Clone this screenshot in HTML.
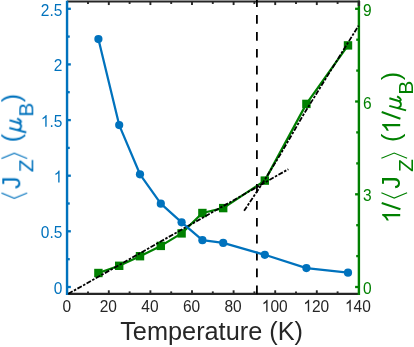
<!DOCTYPE html><html><head><meta charset="utf-8"><title>chart</title><style>html,body{margin:0;padding:0;background:#fff}svg{display:block}text{font-family:"Liberation Sans",sans-serif}</style></head><body>
<svg width="414" height="347" viewBox="0 0 414 347">
<defs><filter id="f" x="0" y="0" width="414" height="347" filterUnits="userSpaceOnUse"><feOffset dx="0" dy="0"/></filter></defs>
<rect width="414" height="347" fill="#fff"/>
<g filter="url(#f)">
<polyline points="98.4,273 119.2,265.8 140.0,256.2 160.8,245.9 181.6,233.4 202.4,213 223.2,208.1 264.8,180.6 306.4,103.9 348.0,45.4" fill="none" stroke="#008000" stroke-width="2.25" stroke-linejoin="round"/>
<rect x="94.2" y="268.8" width="8.4" height="8.4" fill="#008000"/>
<rect x="115.0" y="261.6" width="8.4" height="8.4" fill="#008000"/>
<rect x="135.8" y="252.0" width="8.4" height="8.4" fill="#008000"/>
<rect x="156.6" y="241.7" width="8.4" height="8.4" fill="#008000"/>
<rect x="177.4" y="229.2" width="8.4" height="8.4" fill="#008000"/>
<rect x="198.2" y="208.8" width="8.4" height="8.4" fill="#008000"/>
<rect x="219.0" y="203.9" width="8.4" height="8.4" fill="#008000"/>
<rect x="260.6" y="176.4" width="8.4" height="8.4" fill="#008000"/>
<rect x="302.2" y="99.7" width="8.4" height="8.4" fill="#008000"/>
<rect x="343.8" y="41.2" width="8.4" height="8.4" fill="#008000"/>
<g stroke="#262626" stroke-width="2.1" fill="none">
<line x1="67.05" y1="1.45" x2="359.9" y2="1.45"/>
<line x1="67.05" y1="293.9" x2="358.9" y2="293.9"/>
<line x1="88.0" y1="1.45" x2="88.0" y2="3.95" stroke-width="1.9"/>
<line x1="88.0" y1="293.9" x2="88.0" y2="291.4" stroke-width="1.9"/>
<line x1="108.8" y1="1.45" x2="108.8" y2="5.050000000000001" stroke-width="1.9"/>
<line x1="108.8" y1="293.9" x2="108.8" y2="290.3" stroke-width="1.9"/>
<line x1="129.6" y1="1.45" x2="129.6" y2="3.95" stroke-width="1.9"/>
<line x1="129.6" y1="293.9" x2="129.6" y2="291.4" stroke-width="1.9"/>
<line x1="150.4" y1="1.45" x2="150.4" y2="5.050000000000001" stroke-width="1.9"/>
<line x1="150.4" y1="293.9" x2="150.4" y2="290.3" stroke-width="1.9"/>
<line x1="171.2" y1="1.45" x2="171.2" y2="3.95" stroke-width="1.9"/>
<line x1="171.2" y1="293.9" x2="171.2" y2="291.4" stroke-width="1.9"/>
<line x1="192.0" y1="1.45" x2="192.0" y2="5.050000000000001" stroke-width="1.9"/>
<line x1="192.0" y1="293.9" x2="192.0" y2="290.3" stroke-width="1.9"/>
<line x1="212.8" y1="1.45" x2="212.8" y2="3.95" stroke-width="1.9"/>
<line x1="212.8" y1="293.9" x2="212.8" y2="291.4" stroke-width="1.9"/>
<line x1="233.6" y1="1.45" x2="233.6" y2="5.050000000000001" stroke-width="1.9"/>
<line x1="233.6" y1="293.9" x2="233.6" y2="290.3" stroke-width="1.9"/>
<line x1="254.4" y1="1.45" x2="254.4" y2="3.95" stroke-width="1.9"/>
<line x1="254.4" y1="293.9" x2="254.4" y2="291.4" stroke-width="1.9"/>
<line x1="275.2" y1="1.45" x2="275.2" y2="5.050000000000001" stroke-width="1.9"/>
<line x1="275.2" y1="293.9" x2="275.2" y2="290.3" stroke-width="1.9"/>
<line x1="296.0" y1="1.45" x2="296.0" y2="3.95" stroke-width="1.9"/>
<line x1="296.0" y1="293.9" x2="296.0" y2="291.4" stroke-width="1.9"/>
<line x1="316.8" y1="1.45" x2="316.8" y2="5.050000000000001" stroke-width="1.9"/>
<line x1="316.8" y1="293.9" x2="316.8" y2="290.3" stroke-width="1.9"/>
<line x1="337.6" y1="1.45" x2="337.6" y2="3.95" stroke-width="1.9"/>
<line x1="337.6" y1="293.9" x2="337.6" y2="291.4" stroke-width="1.9"/>
</g>
<g stroke="#008000" stroke-width="2.4" fill="none">
<line x1="358.9" y1="0.7" x2="358.9" y2="295"/>
<line x1="358.9" y1="287.0" x2="355.09999999999997" y2="287.0" stroke-width="2.3"/>
<line x1="358.9" y1="256.1" x2="356.19999999999993" y2="256.1" stroke-width="2.3"/>
<line x1="358.9" y1="225.2" x2="356.19999999999993" y2="225.2" stroke-width="2.3"/>
<line x1="358.9" y1="194.3" x2="355.09999999999997" y2="194.3" stroke-width="2.3"/>
<line x1="358.9" y1="163.4" x2="356.19999999999993" y2="163.4" stroke-width="2.3"/>
<line x1="358.9" y1="132.4" x2="356.19999999999993" y2="132.4" stroke-width="2.3"/>
<line x1="358.9" y1="101.5" x2="355.09999999999997" y2="101.5" stroke-width="2.3"/>
<line x1="358.9" y1="70.6" x2="356.19999999999993" y2="70.6" stroke-width="2.3"/>
<line x1="358.9" y1="39.7" x2="356.19999999999993" y2="39.7" stroke-width="2.3"/>
<line x1="358.9" y1="8.8" x2="355.09999999999997" y2="8.8" stroke-width="2.3"/>
</g>
<line x1="358.9" y1="0.7" x2="358.9" y2="6" stroke="#262626" stroke-width="2.4"/>
<g stroke="#0072bd" stroke-width="2.4" fill="none">
<line x1="67.05" y1="0.7" x2="67.05" y2="295"/>
<line x1="67.05" y1="287.0" x2="70.85" y2="287.0" stroke-width="2.3"/>
<line x1="67.05" y1="259.2" x2="69.74999999999999" y2="259.2" stroke-width="2.3"/>
<line x1="67.05" y1="231.3" x2="70.85" y2="231.3" stroke-width="2.3"/>
<line x1="67.05" y1="203.5" x2="69.74999999999999" y2="203.5" stroke-width="2.3"/>
<line x1="67.05" y1="175.7" x2="70.85" y2="175.7" stroke-width="2.3"/>
<line x1="67.05" y1="147.9" x2="69.74999999999999" y2="147.9" stroke-width="2.3"/>
<line x1="67.05" y1="120.1" x2="70.85" y2="120.1" stroke-width="2.3"/>
<line x1="67.05" y1="92.2" x2="69.74999999999999" y2="92.2" stroke-width="2.3"/>
<line x1="67.05" y1="64.4" x2="70.85" y2="64.4" stroke-width="2.3"/>
<line x1="67.05" y1="36.6" x2="69.74999999999999" y2="36.6" stroke-width="2.3"/>
<line x1="67.05" y1="8.8" x2="70.85" y2="8.8" stroke-width="2.3"/>
</g>
<g stroke="#000" stroke-width="1.8" fill="none" stroke-dasharray="5 1.5 2.5 1.5">
<line x1="68.3" y1="293.8" x2="288.4" y2="169.2"/>
<polyline points="244.1,210.8 256.6,192 265.4,178.7 280.6,154.1 303.1,115.3 327.6,75.6 358.6,25.6"/>
</g>
<line x1="256.9" y1="294.2" x2="256.9" y2="0" stroke="#000" stroke-width="1.8" stroke-dasharray="8.7 8.2"/>
<polyline points="98.4,39.1 119.2,125.1 140.0,174.3 160.8,203.7 181.6,222.3 202.4,240.2 223.2,242.9 264.8,254.8 306.4,268.1 348.0,272.7" fill="none" stroke="#0072bd" stroke-width="2.25" stroke-linejoin="round"/>
<circle cx="98.4" cy="39.1" r="4.1" fill="#0072bd"/>
<circle cx="119.2" cy="125.1" r="4.1" fill="#0072bd"/>
<circle cx="140.0" cy="174.3" r="4.1" fill="#0072bd"/>
<circle cx="160.8" cy="203.7" r="4.1" fill="#0072bd"/>
<circle cx="181.6" cy="222.3" r="4.1" fill="#0072bd"/>
<circle cx="202.4" cy="240.2" r="4.1" fill="#0072bd"/>
<circle cx="223.2" cy="242.9" r="4.1" fill="#0072bd"/>
<circle cx="264.8" cy="254.8" r="4.1" fill="#0072bd"/>
<circle cx="306.4" cy="268.1" r="4.1" fill="#0072bd"/>
<circle cx="348.0" cy="272.7" r="4.1" fill="#0072bd"/>
<g>
<g font-size="15.5" fill="#262626" text-anchor="middle">
<g transform="translate(62.39,311.70) scale(1,1.07)" font-size="15.5" fill="#262626" text-anchor="start"><text x="0.00" y="0">0</text></g>
<g transform="translate(99.68,311.70) scale(1,1.07)" font-size="15.5" fill="#262626" text-anchor="start"><text x="0.00" y="0">2</text><text x="8.62" y="0">0</text></g>
<g transform="translate(141.28,311.70) scale(1,1.07)" font-size="15.5" fill="#262626" text-anchor="start"><text x="0.00" y="0">4</text><text x="8.62" y="0">0</text></g>
<g transform="translate(182.88,311.70) scale(1,1.07)" font-size="15.5" fill="#262626" text-anchor="start"><text x="0.00" y="0">6</text><text x="8.62" y="0">0</text></g>
<g transform="translate(224.48,311.70) scale(1,1.07)" font-size="15.5" fill="#262626" text-anchor="start"><text x="0.00" y="0">8</text><text x="8.62" y="0">0</text></g>
<g transform="translate(261.77,311.70) scale(1,1.07)" font-size="15.5" fill="#262626" text-anchor="start"><path transform="translate(0.00,0.00) scale(0.01550)" d="M373,0 L285,0 L285,-560 Q253,-530 201,-500 Q149,-470 108,-455 L108,-540 Q182,-575 238,-625 Q294,-674 317,-721 L373,-721 Z" fill="#262626"/><text x="8.62" y="0">0</text><text x="17.24" y="0">0</text></g>
<g transform="translate(303.37,311.70) scale(1,1.07)" font-size="15.5" fill="#262626" text-anchor="start"><path transform="translate(0.00,0.00) scale(0.01550)" d="M373,0 L285,0 L285,-560 Q253,-530 201,-500 Q149,-470 108,-455 L108,-540 Q182,-575 238,-625 Q294,-674 317,-721 L373,-721 Z" fill="#262626"/><text x="8.62" y="0">2</text><text x="17.24" y="0">0</text></g>
<g transform="translate(344.97,311.70) scale(1,1.07)" font-size="15.5" fill="#262626" text-anchor="start"><path transform="translate(0.00,0.00) scale(0.01550)" d="M373,0 L285,0 L285,-560 Q253,-530 201,-500 Q149,-470 108,-455 L108,-540 Q182,-575 238,-625 Q294,-674 317,-721 L373,-721 Z" fill="#262626"/><text x="8.62" y="0">4</text><text x="17.24" y="0">0</text></g>
</g>
<g font-size="15.5" fill="#0072bd" text-anchor="end">
<g transform="translate(53.78,293.80) scale(1,1.07)" font-size="15.5" fill="#0072bd" text-anchor="start"><text x="0.00" y="0">0</text></g>
<g transform="translate(40.85,238.15) scale(1,1.07)" font-size="15.5" fill="#0072bd" text-anchor="start"><text x="0.00" y="0">0</text><text x="8.62" y="0">.</text><text x="12.93" y="0">5</text></g>
<g transform="translate(53.78,182.50) scale(1,1.07)" font-size="15.5" fill="#0072bd" text-anchor="start"><path transform="translate(0.00,0.00) scale(0.01550)" d="M373,0 L285,0 L285,-560 Q253,-530 201,-500 Q149,-470 108,-455 L108,-540 Q182,-575 238,-625 Q294,-674 317,-721 L373,-721 Z" fill="#0072bd"/></g>
<g transform="translate(40.85,126.85) scale(1,1.07)" font-size="15.5" fill="#0072bd" text-anchor="start"><path transform="translate(0.00,0.00) scale(0.01550)" d="M373,0 L285,0 L285,-560 Q253,-530 201,-500 Q149,-470 108,-455 L108,-540 Q182,-575 238,-625 Q294,-674 317,-721 L373,-721 Z" fill="#0072bd"/><text x="8.62" y="0">.</text><text x="12.93" y="0">5</text></g>
<g transform="translate(53.78,71.20) scale(1,1.07)" font-size="15.5" fill="#0072bd" text-anchor="start"><text x="0.00" y="0">2</text></g>
<g transform="translate(40.85,15.55) scale(1,1.07)" font-size="15.5" fill="#0072bd" text-anchor="start"><text x="0.00" y="0">2</text><text x="8.62" y="0">.</text><text x="12.93" y="0">5</text></g>
</g>
<g font-size="15.5" fill="#008000" text-anchor="start">
<g transform="translate(363.10,294.00) scale(1,1.07)" font-size="15.5" fill="#008000" text-anchor="start"><text x="0.00" y="0">0</text></g>
<g transform="translate(363.10,201.27) scale(1,1.07)" font-size="15.5" fill="#008000" text-anchor="start"><text x="0.00" y="0">3</text></g>
<g transform="translate(363.10,108.53) scale(1,1.07)" font-size="15.5" fill="#008000" text-anchor="start"><text x="0.00" y="0">6</text></g>
<g transform="translate(363.10,15.80) scale(1,1.07)" font-size="15.5" fill="#008000" text-anchor="start"><text x="0.00" y="0">9</text></g>
</g>
<text x="211.6" y="340" font-size="25.3" fill="#262626" text-anchor="middle">Temperature (K)</text>
</g>
<g transform="translate(20.3,198.7) rotate(-90)" fill="#0072bd">
<path d="M5.7,-18.8 L0.4,-6 L5.7,6.9" fill="none" stroke="#0072bd" stroke-width="1.15"/>
<text x="9.8" y="0" font-size="25">J</text>
<text x="26.4" y="12.6" font-size="21">Z</text>
<path d="M40.2,-18.8 L45.5,-6 L40.2,6.9" fill="none" stroke="#0072bd" stroke-width="1.15"/>
<text x="56.4" y="0" font-size="25">(</text>
<g transform="translate(0,0)">
<path d="M70.8,-10.9 L66.3,5.9 M68.8,-3 C68.8,0.6 72,1.4 74,0.3 C75.4,-0.6 76.2,-2 76.6,-3.6 M78.5,-10.8 L75.7,-1.6 C75.3,0.5 77,1.1 78.1,0 C79,-0.9 79.8,-2.1 80.3,-3.1" fill="none" stroke="#0072bd" stroke-width="2"/>
<text x="81.9" y="12.6" font-size="21">B</text>
<text x="96.5" y="0" font-size="25">)</text>
</g></g>
<g transform="translate(400.2,198.5) rotate(-90)" fill="#008000">
<path transform="translate(-24.80,0.00) scale(0.02500)" d="M373,0 L285,0 L285,-560 Q253,-530 201,-500 Q149,-470 108,-455 L108,-540 Q182,-575 238,-625 Q294,-674 317,-721 L373,-721 Z" fill="#008000"/>
<path d="M-10.8,0.2 L-4.4,-18.5" fill="none" stroke="#008000" stroke-width="2.1"/>
<path d="M5.7,-18.8 L0.4,-6 L5.7,6.9" fill="none" stroke="#008000" stroke-width="1.15"/>
<text x="9.8" y="0" font-size="25">J</text>
<text x="26.4" y="12.6" font-size="21">Z</text>
<path d="M40.2,-18.8 L45.5,-6 L40.2,6.9" fill="none" stroke="#008000" stroke-width="1.15"/>
<text x="56.4" y="0" font-size="25">(</text>
<path transform="translate(65.10,0.00) scale(0.02500)" d="M373,0 L285,0 L285,-560 Q253,-530 201,-500 Q149,-470 108,-455 L108,-540 Q182,-575 238,-625 Q294,-674 317,-721 L373,-721 Z" fill="#008000"/>
<path d="M79.8,0.2 L86.4,-18.5" fill="none" stroke="#008000" stroke-width="2.1"/>
<g transform="translate(21.8,0)">
<path d="M70.8,-10.9 L66.3,5.9 M68.8,-3 C68.8,0.6 72,1.4 74,0.3 C75.4,-0.6 76.2,-2 76.6,-3.6 M78.5,-10.8 L75.7,-1.6 C75.3,0.5 77,1.1 78.1,0 C79,-0.9 79.8,-2.1 80.3,-3.1" fill="none" stroke="#008000" stroke-width="2"/>
<text x="81.9" y="12.6" font-size="21">B</text>
<text x="96.5" y="0" font-size="25">)</text>
</g></g>
</g>
</svg></body></html>
